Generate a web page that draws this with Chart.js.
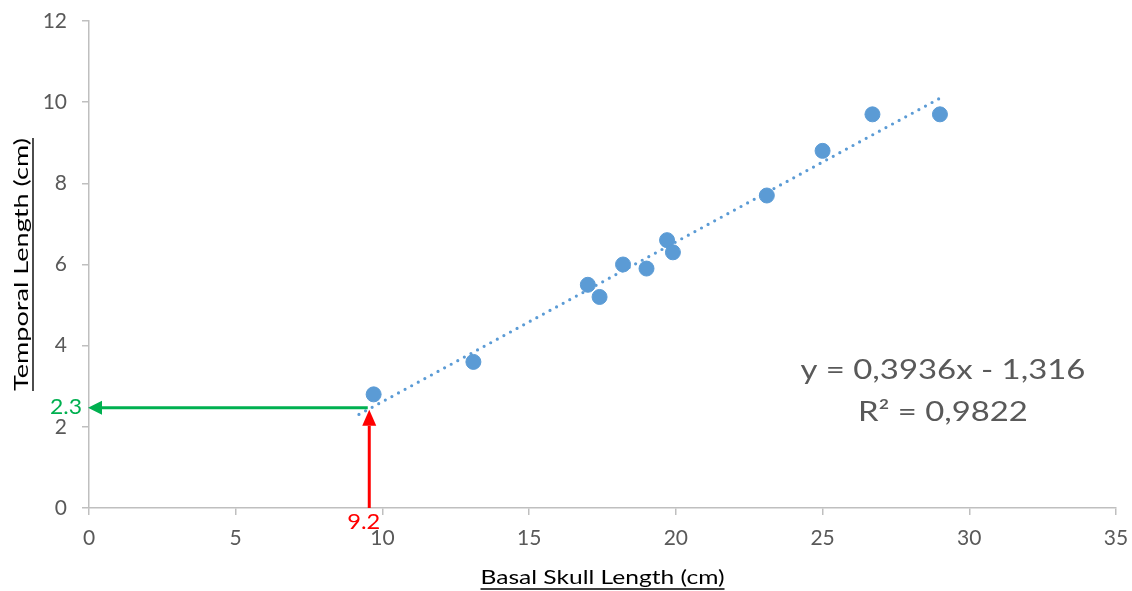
<!DOCTYPE html>
<html>
<head>
<meta charset="utf-8">
<script src="https://cdn.jsdelivr.net/npm/chart.js@4"></script>
<style>
  html, body { margin: 0; padding: 0; background: #ffffff; }
  #wrap { width: 1132px; height: 591px; position: relative; }
</style>
</head>
<body>
<div id="wrap"><canvas id="c" width="1132" height="591"></canvas></div>
<script>
// ---- data ----
const basalSkull = [9.7, 13.1, 17.0, 17.4, 18.2, 19.0, 19.7, 19.9, 23.1, 25.0, 26.7, 29.0];
const temporal   = [2.8, 3.6, 5.5, 5.2, 6.0, 5.9, 6.6, 6.3, 7.7, 8.8, 9.7, 9.7];
const trendX = [9.2, 29.0];
const trendY = [2.305, 10.098];
const xTicks = [0, 5, 10, 15, 20, 25, 30, 35];
const yTicks = [0, 2, 4, 6, 8, 10, 12];
const equationLines = ['y = 0,3936x - 1,316', 'R² = 0,9822'];
const equationPos = [29.1, 2.87];      // data coords of the text block centre
const readX = 9.5, readY = 2.47;       // where the reading arrows meet
const readXLabel = '9.2', readYLabel = '2.3';
const xTitle = 'Basal Skull Length (cm)';
const yTitle = 'Temporal Length (cm)';

const FONT = 'Lato, "Open Sans", sans-serif';

function arrow(ctx, x1, y1, x2, y2, color, headLen, headW) {
  const ang = Math.atan2(y2 - y1, x2 - x1);
  const bx = x2 - headLen * Math.cos(ang), by = y2 - headLen * Math.sin(ang);
  ctx.save();
  ctx.strokeStyle = color; ctx.fillStyle = color; ctx.lineWidth = 3;
  ctx.beginPath(); ctx.moveTo(x1, y1); ctx.lineTo(bx, by); ctx.stroke();
  ctx.beginPath();
  ctx.moveTo(x2, y2);
  ctx.lineTo(bx + headW / 2 * Math.sin(ang), by - headW / 2 * Math.cos(ang));
  ctx.lineTo(bx - headW / 2 * Math.sin(ang), by + headW / 2 * Math.cos(ang));
  ctx.closePath(); ctx.fill();
  ctx.restore();
}

// text drawn centred at (cx, cy), horizontally stretched to a given width
function stretchedText(ctx, text, cx, cy, size, width, color, underline) {
  ctx.save();
  ctx.font = size + 'px ' + FONT;
  ctx.fillStyle = color; ctx.strokeStyle = color;
  ctx.textAlign = 'center'; ctx.textBaseline = 'middle';
  const w = ctx.measureText(text).width;
  ctx.translate(cx, cy);
  ctx.scale(width / w, 1);
  ctx.fillText(text, 0, 0);
  if (underline) {
    ctx.lineWidth = 1.4;
    ctx.beginPath(); ctx.moveTo(-w / 2, size * 0.55); ctx.lineTo(w / 2, size * 0.55); ctx.stroke();
  }
  ctx.restore();
}

const overlay = {
  id: 'overlay',
  afterDatasetsDraw(chart) {
    const ctx = chart.ctx, xs = chart.scales.x, ys = chart.scales.y, ca = chart.chartArea;
    const px = xs.getPixelForValue(readX), py = ys.getPixelForValue(readY);
    // green horizontal arrow to the y axis
    arrow(ctx, px, py, xs.getPixelForValue(0) - 1, py, '#00b050', 14, 14);
    // red vertical arrow from the x axis
    arrow(ctx, px + 1.5, ys.getPixelForValue(0), px + 1.5, py + 2, '#ff0000', 16, 14);
    stretchedText(ctx, readYLabel, xs.getPixelForValue(0) - 23, py - 1, 21, 32, '#00b050');
    stretchedText(ctx, readXLabel, px - 4, ys.getPixelForValue(0) + 14, 21, 33, '#ff0000');
    // equation
    const ex = xs.getPixelForValue(equationPos[0]), ey = ys.getPixelForValue(equationPos[1]);
    stretchedText(ctx, equationLines[0], ex, ey - 21, 26, 285, '#595959');
    stretchedText(ctx, equationLines[1], ex, ey + 21, 26, 170, '#595959');
    // axis titles (underlined)
    const cx = (ca.left + ca.right) / 2;
    stretchedText(ctx, xTitle, cx, 578, 20, 244, '#000000', true);
    ctx.save();
    ctx.translate(22, (ca.top + ca.bottom) / 2);
    ctx.rotate(-Math.PI / 2);
    stretchedText(ctx, yTitle, 0, 0, 20, 253, '#000000', true);
    ctx.restore();
  }
};

function noPad(s) { s.paddingTop = 0; s.paddingBottom = 0; s.paddingLeft = 0; s.paddingRight = 0; }

const axisCommon = {
  type: 'linear',
  grid: { display: true, drawOnChartArea: false, drawTicks: true, tickLength: 7, color: '#bfbfbf', lineWidth: 1.5 },
  border: { display: true, color: '#bfbfbf', width: 1.5 },
  ticks: { color: '#595959', font: { family: FONT, size: 21 } }
};

new Chart(document.getElementById('c'), {
  type: 'scatter',
  data: {
    datasets: [
      {
        label: 'Trend',
        type: 'line',
        data: trendX.map((x, i) => ({ x, y: trendY[i] })),
        borderColor: '#5b9bd5',
        borderWidth: 3.2,
        borderDash: [0, 7.5],
        borderCapStyle: 'round',
        pointRadius: 0,
        fill: false,
        order: 2
      },
      {
        label: 'Temporal',
        data: basalSkull.map((x, i) => ({ x, y: temporal[i] })),
        backgroundColor: '#5b9bd5',
        borderColor: '#5b9bd5',
        pointRadius: 7.5,
        pointHoverRadius: 7.5,
        order: 1
      }
    ]
  },
  options: {
    responsive: false,
    animation: false,
    events: [],
    layout: { padding: { left: 0, right: 16, top: 21, bottom: 0 } },
    plugins: { legend: { display: false }, tooltip: { enabled: false } },
    scales: {
      x: Object.assign({}, axisCommon, {
        min: xTicks[0], max: xTicks[xTicks.length - 1],
        afterBuildTicks: s => { s.ticks = xTicks.map(v => ({ value: v })); },
        afterFit: s => { s.height = 83; noPad(s); },
        ticks: Object.assign({}, axisCommon.ticks, { padding: 11 })
      }),
      y: Object.assign({}, axisCommon, {
        min: yTicks[0], max: yTicks[yTicks.length - 1],
        afterBuildTicks: s => { s.ticks = yTicks.map(v => ({ value: v })); },
        afterFit: s => { s.width = 89; noPad(s); },
        ticks: Object.assign({}, axisCommon.ticks, { padding: 15 })
      })
    }
  },
  plugins: [overlay]
});
</script>
</body>
</html>
